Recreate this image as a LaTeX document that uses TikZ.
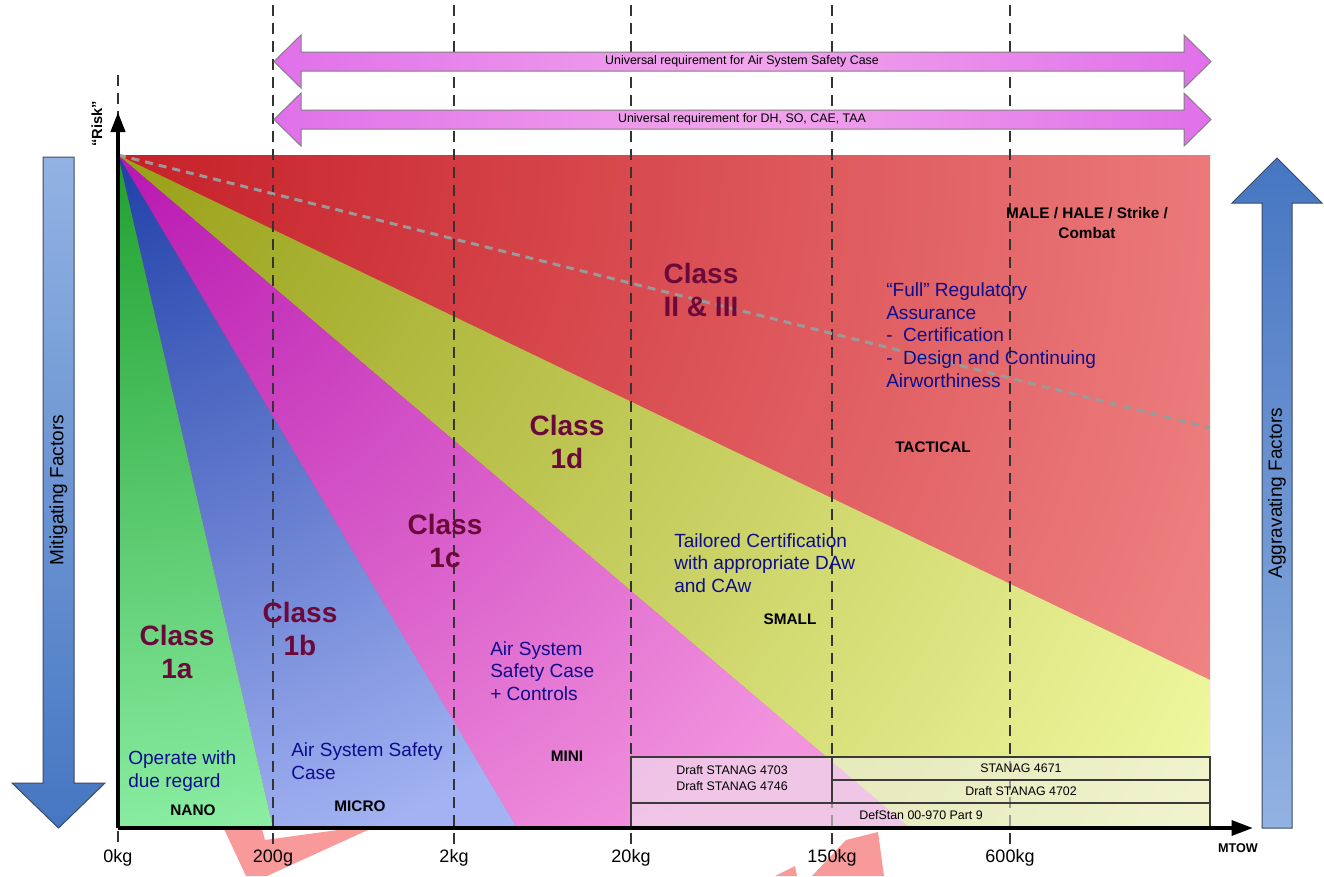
\documentclass[tikz,border=0pt]{standalone}
\usepackage{fontspec}
\setmainfont{Liberation Sans}
\usetikzlibrary{arrows.meta}
\definecolor{redA}{HTML}{C62028}
\definecolor{redB}{HTML}{F28A8A}
\definecolor{yelA}{HTML}{98A018}
\definecolor{yelB}{HTML}{F0F8A0}
\definecolor{magA}{HTML}{B818B0}
\definecolor{magB}{HTML}{F294DE}
\definecolor{bluA}{HTML}{2040A8}
\definecolor{bluB}{HTML}{A2B2F2}
\definecolor{grnA}{HTML}{20A030}
\definecolor{grnB}{HTML}{8CEEA4}
\definecolor{classc}{HTML}{6B0A3A}
\definecolor{navyc}{HTML}{0D0D8C}
\definecolor{dashc}{HTML}{333333}
\definecolor{riskc}{HTML}{9A9A9A}
\definecolor{tblfill}{HTML}{F0F0F0}
\definecolor{tblline}{HTML}{3A3A3A}
\definecolor{pinkA}{HTML}{E070EA}
\definecolor{pinkB}{HTML}{F2A6EC}
\definecolor{arrLight}{HTML}{92B2E2}
\definecolor{arrDark}{HTML}{4676C2}
\definecolor{arrEdge}{HTML}{3B4A66}
\definecolor{wmark}{HTML}{F89A9A}
\pgfdeclareradialshading{redfan}{\pgfpoint{0bp}{0bp}}{color(0bp)=(redA); color(25bp)=(redB); color(50bp)=(redB)}
\pgfdeclareradialshading{yelfan}{\pgfpoint{0bp}{0bp}}{color(0bp)=(yelA); color(25bp)=(yelB); color(50bp)=(yelB)}
\pgfdeclareradialshading{magfan}{\pgfpoint{0bp}{0bp}}{color(0bp)=(magA); color(25bp)=(magB); color(50bp)=(magB)}
\pgfdeclareradialshading{blufan}{\pgfpoint{0bp}{0bp}}{color(0bp)=(bluA); color(25bp)=(bluB); color(50bp)=(bluB)}
\pgfdeclareradialshading{grnfan}{\pgfpoint{0bp}{0bp}}{color(0bp)=(grnA); color(25bp)=(grnB); color(50bp)=(grnB)}
\newcommand\myfan[3]{%
  \begin{scope}
    \clip #3;
    \shade[shading=#1] (118-#2,155-#2) rectangle (118+#2,155+#2);
  \end{scope}}
\begin{document}
\begin{tikzpicture}[x=0.75pt,y=-0.75pt,
  classlbl/.style={font=\fontsize{21}{25}\selectfont\bfseries, text=classc, align=center, inner sep=0},
  bluetxt/.style={font=\fontsize{14.3}{17}\selectfont, text=navyc, align=left, anchor=west, inner sep=0},
  catlbl/.style={font=\fontsize{11.5}{15}\selectfont\bfseries, align=center, inner sep=0},
  axlbl/.style={font=\fontsize{13.5}{16}\selectfont, inner sep=0},
  tblbox/.style={draw=tblline, fill=tblfill, fill opacity=0.55, line width=0.8pt},
  tbltxt/.style={font=\fontsize{9.3}{12}\selectfont, align=center, inner sep=0},
  vdash/.style={draw=dashc, line width=1.4pt, dash pattern=on 8pt off 5.5pt},
  toparrow/.style={draw=gray, line width=0.75pt, left color=pinkA, right color=pinkA, middle color=pinkB},
  toptxt/.style={font=\fontsize{9.3}{11}\selectfont, inner sep=0},
  sidetxt/.style={font=\fontsize{14.3}{17}\selectfont, rotate=90, inner sep=0},
  wm/.style={fill=wmark, draw=none}
]
\useasboundingbox (0,0) rectangle (1324,876);

% background fans
\myfan{redfan}{1300}{(118,155) rectangle (1210,828)}
\myfan{yelfan}{1250}{(118,155) -- (1210,680) -- (1210,828) -- (910,828) -- cycle}
\myfan{magfan}{880}{(118,155) -- (910,828) -- (517,828) -- cycle}
\myfan{blufan}{720}{(118,155) -- (517,828) -- (273,828) -- cycle}
\myfan{grnfan}{690}{(118,155) -- (273,828) -- (118,828) -- cycle}

% watermark fragments
\fill[wm] (224,829) -- (262,829) -- (265,840) -- (345,829) -- (370,829) -- (267,876) -- (246,876) -- cycle;
\fill[wm] (812,876) -- (846,840) -- (878,832) -- (884,876) -- cycle;
\fill[wm] (775,876) -- (795,866) -- (797,876) -- cycle;

% vertical dashed lines
\draw[vdash] (118,75) -- (118,848);
\foreach \xx in {273,454,631,832,1010} \draw[vdash] (\xx,5) -- (\xx,848);

% risk line
\coordinate (O) at (118,155);
\coordinate (riskend) at (1210,428);
\draw[riskc, line width=2.2pt, dash pattern=on 6pt off 4.5pt] (O) -- (riskend);

% table
\draw[tblbox] (631,757) rectangle (832,803);
\draw[tblbox] (832,757) rectangle (1210,780);
\draw[tblbox] (832,780) rectangle (1210,803);
\draw[tblbox] (631,803) rectangle (1210,828);
\node[tbltxt] (t4703) at (732,778) {Draft STANAG 4703\\Draft STANAG 4746};
\node[tbltxt] (t4671) at (1021,768) {STANAG 4671};
\node[tbltxt] (t4702) at (1021,791) {Draft STANAG 4702};
\node[tbltxt] (tdef) at (921,815) {DefStan 00-970 Part 9};

% axes
\coordinate (orig) at (118,828);
\coordinate (ytip) at (118,112);
\coordinate (xtip) at (1253,828);
\draw[line width=3pt, -{Triangle[length=15pt,width=10.5pt]}] (orig) -- (ytip);
\draw[line width=3pt, -{Triangle[length=16pt,width=11pt]}] (orig) -- (xtip);
\node[font=\fontsize{11}{13}\selectfont\bfseries, rotate=90, inner sep=0] (risk) at (97,124) {“Risk”};
\node[font=\fontsize{9.5}{11}\selectfont\bfseries, inner sep=0] (mtow) at (1238,848) {MTOW};

% axis labels
\node[axlbl] (l0) at (118,858) {0kg};
\node[axlbl] (l200) at (273,858) {200g};
\node[axlbl] (l2) at (454,858) {2kg};
\node[axlbl] (l20) at (631,858) {20kg};
\node[axlbl] (l150) at (832,858) {150kg};
\node[axlbl] (l600) at (1010,858) {600kg};

% top arrows
\draw[toparrow] (274,61.5) -- (301,35) -- (301,52) -- (1184,52) -- (1184,35) -- (1211,61.5) -- (1184,88) -- (1184,71) -- (301,71) -- (301,88) -- cycle;
\node[toptxt] (u1) at (742,61.5) {Universal requirement for Air System Safety Case};
\draw[toparrow] (274,119.5) -- (301,93) -- (301,110) -- (1184,110) -- (1184,93) -- (1211,119.5) -- (1184,146) -- (1184,129) -- (301,129) -- (301,146) -- cycle;
\node[toptxt] (u2) at (742,119.5) {Universal requirement for DH, SO, CAE, TAA};

% side arrows
\draw[draw=arrEdge, line width=0.75pt, top color=arrLight, bottom color=arrDark]
  (43,157) -- (74,157) -- (74,783) -- (105,783) -- (58.5,828) -- (12,783) -- (43,783) -- cycle;
\node[sidetxt] (mit) at (58.5,490) {Mitigating Factors};
\draw[draw=arrEdge, line width=0.75pt, top color=arrDark, bottom color=arrLight]
  (1277,158) -- (1322,203) -- (1292,203) -- (1292,828) -- (1262,828) -- (1262,203) -- (1232,203) -- cycle;
\node[sidetxt] (agg) at (1277,493) {Aggravating Factors};

% class labels
\node[classlbl] (c1a) at (177,652) {Class\\1a};
\node[classlbl] (c1b) at (300,629) {Class\\1b};
\node[classlbl] (c1c) at (445,541) {Class\\1c};
\node[classlbl] (c1d) at (567,442) {Class\\1d};
\node[classlbl] (c23) at (701,290) {Class\\II \& III};

% blue texts
\node[bluetxt] (b1) at (128,771) {Operate with\\due regard};
\node[bluetxt] (b2) at (291,761) {Air System Safety\\Case};
\node[bluetxt] (b3) at (490,671) {Air System\\Safety Case\\+ Controls};
\node[bluetxt] (b4) at (674,563) {Tailored Certification\\with appropriate DAw\\and CAw};
\node[bluetxt] (b5) at (886,335) {“Full” Regulatory\\Assurance\\-~~Certification\\-~~Design and Continuing\\Airworthiness};

% category labels
\node[catlbl] (nano) at (193,810) {NANO};
\node[catlbl] (micro) at (360,806) {MICRO};
\node[catlbl] (mini) at (567,756) {MINI};
\node[catlbl] (small) at (790,619) {SMALL};
\node[catlbl] (tact) at (933,447) {TACTICAL};
\node[catlbl] (male) at (1087,223) {MALE / HALE / Strike /\\Combat};
\end{tikzpicture}
\end{document}
